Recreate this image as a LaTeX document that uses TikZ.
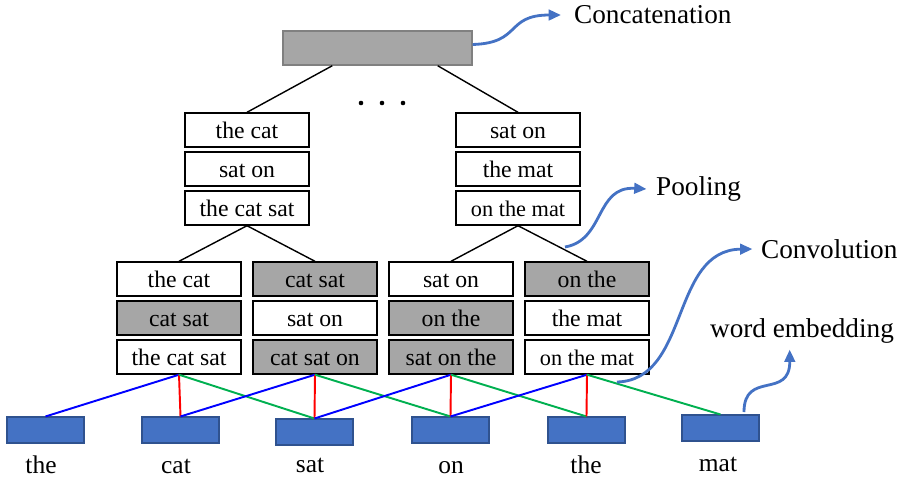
\documentclass[tikz,border=0pt]{standalone}
\usepackage{fontspec}
\setmainfont{Liberation Serif}
\usepackage{tikz}
\usetikzlibrary{arrows.meta}

\definecolor{boxgray}{HTML}{A6A6A6}
\definecolor{embblue}{HTML}{4472C4}
\definecolor{embedge}{HTML}{2F528F}
\definecolor{convgreen}{HTML}{00B050}

\newcommand{\narrowtxt}{\fontsize{12.7}{15}\selectfont}

\tikzset{
  wbox/.style={draw, line width=0.8pt, fill=white, minimum width=2.48cm,
    minimum height=0.68cm, inner sep=0pt, text height=9.6pt, text depth=0pt,
    font=\fontsize{13.5}{16}\selectfont},
  gbox/.style={wbox, fill=boxgray},
  emb/.style={draw=embedge, line width=0.6pt, fill=embblue,
    minimum width=1.54cm, minimum height=0.52cm, inner sep=0pt},
  word/.style={font=\fontsize{14.5}{17}\selectfont, anchor=base},
  lbl/.style={font=\fontsize{15.5}{18}\selectfont, anchor=west},
  callout/.style={draw=embblue, line width=1.6pt, -{Triangle[length=7pt,width=6pt]}},
  link/.style={line width=1.1pt}
}

\begin{document}
\begin{tikzpicture}[x=0.02cm, y=-0.02cm]
  \useasboundingbox (0,0) rectangle (903,478);

  % Concatenation
  \node[draw=gray, line width=0.8pt, fill=boxgray, minimum width=3.78cm,
    minimum height=0.68cm] (concat) at (377.5,48) {};
  \foreach \x in {361,382,403}
    \fill (\x,103) circle (1.3pt);

  % Pooling stacks
  \foreach \k/\x/\ta/\tb/\tc in {1/247/the cat/sat on/the cat sat,
      2/518/sat on/the mat/\narrowtxt on the mat} {
    \node[wbox] (p\k a) at (\x,130) {\ta};
    \node[wbox] (p\k b) at (\x,169) {\tb};
    \node[wbox] (p\k c) at (\x,208) {\tc};
  }

  % Convolution stacks
  \foreach \k/\x/\ta/\sa/\tb/\sb/\tc/\sc in {1/179/the cat/wbox/cat sat/gbox/the cat sat/wbox,
      2/315/cat sat/gbox/sat on/wbox/cat sat on/gbox,
      3/451/sat on/wbox/on the/gbox/sat on the/gbox,
      4/587/on the/gbox/the mat/wbox/\narrowtxt on the mat/wbox} {
    \node[\sa] (c\k a) at (\x,279) {\ta};
    \node[\sb] (c\k b) at (\x,318) {\tb};
    \node[\sc] (c\k c) at (\x,357) {\tc};
  }

  % Word embeddings
  \foreach \k/\x/\y/\w/\lx/\ly in {1/45.5/430/the/41/473, 2/180.5/430/cat/176/473,
      3/314.5/432/sat/310/472, 4/450.5/430/on/451/473,
      5/586.5/430/the/586/473, 6/720.5/428/mat/718/471} {
    \node[emb] (e\k) at (\x,\y) {};
    \node[word] (w\k) at (\lx,\ly) {\w};
  }

  % Tree lines
  \draw[line width=0.8pt] (concat.south west) ++(50,0) -- (p1a.north);
  \draw[line width=0.8pt] (concat.south east) ++(-35,0) -- (p2a.north);
  \draw[line width=0.8pt] (p1c.south) -- (c1a.north);
  \draw[line width=0.8pt] (p1c.south) -- (c2a.north);
  \draw[line width=0.8pt] (p2c.south) -- (c3a.north);
  \draw[line width=0.8pt] (p2c.south) -- (c4a.north);

  % Convolution windows
  \foreach \k/\l/\m/\n in {1/1/2/3, 2/2/3/4, 3/3/4/5, 4/4/5/6} {
    \draw[link, blue] (c\k c.south) -- (e\l.north);
    \draw[link, red] (c\k c.south) -- (e\m.north);
    \draw[link, convgreen] (c\k c.south) -- (e\n.north);
  }

  % Labels
  \node[lbl] (concatlbl) at (568,15) {Concatenation};
  \node[lbl] (poollbl) at (650,189) {Pooling};
  \node[lbl] (convlbl) at (755,249) {Convolution};
  \node[font=\fontsize{15.5}{18}\selectfont] (emblbl) at (802,331) {word embedding};

  \coordinate (poolfrom) at (565,247);
  \coordinate (convfrom) at (617,382);
  \coordinate (embfrom) at (744,412);

  \draw[callout] ([yshift=2pt]concat.east) .. controls (522,43) and (505,15) .. ([xshift=-4pt]concatlbl.west);
  \draw[callout] (poolfrom) .. controls (605,240) and (595,186) .. ([xshift=-2pt]poollbl.west);
  \draw[callout] (convfrom) .. controls (690,380) and (670,250) .. ([xshift=-1.5pt]convlbl.west);
  \draw[callout] (embfrom) .. controls (744,370) and (790,400) .. ([xshift=-7pt]emblbl.south);
\end{tikzpicture}
\end{document}
